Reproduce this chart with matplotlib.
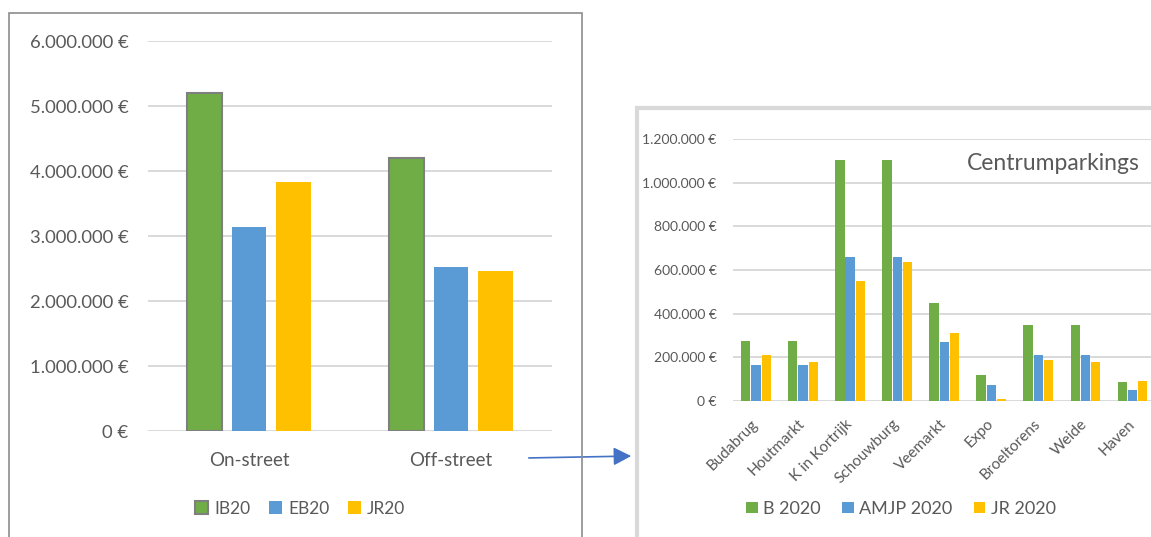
import matplotlib
matplotlib.use("Agg")
import matplotlib.pyplot as plt
import numpy as np
from matplotlib.patches import Rectangle, FancyArrowPatch
from matplotlib.ticker import FuncFormatter

# left chart: on-street vs off-street
main_cats = ["On-street", "Off-street"]
main_series = ["IB20", "EB20", "JR20"]
ib20 = [5210000, 4210000]
eb20 = [3150000, 2530000]
jr20 = [3830000, 2470000]
main_ticks = [0, 1000000, 2000000, 3000000, 4000000, 5000000, 6000000]

# right chart: centrumparkings
park_cats = ["Budabrug", "Houtmarkt", "K in Kortrijk", "Schouwburg", "Veemarkt",
             "Expo", "Broeltorens", "Weide", "Haven"]
park_series = ["B 2020", "AMJP 2020", "JR 2020"]
b2020 = [275000, 275000, 1104000, 1104000, 449000, 119000, 348000, 348000, 87000]
amjp2020 = [165000, 165000, 660000, 660000, 270000, 73000, 211000, 211000, 50000]
jr2020 = [211000, 179000, 550000, 637000, 311000, 9000, 188000, 179000, 92000]
park_ticks = [0, 200000, 400000, 600000, 800000, 1000000, 1200000]

GREEN = "#70AD47"
BLUE = "#5B9BD5"
YELLOW = "#FFC000"
TXT = "#595959"
GRID = "#D9D9D9"

W, H = 1151, 537
plt.rcParams["font.family"] = ["Lato", "DejaVu Sans"]
fig = plt.figure(figsize=(W / 100, H / 100), dpi=100)


def px_axes(x0, y0, x1, y1):
    # pixel box (top-left origin) -> axes
    return fig.add_axes([x0 / W, 1 - y1 / H, (x1 - x0) / W, (y1 - y0) / H])


def euro(v, pos):
    return f"{int(v):,}".replace(",", ".") + " €"


def style(ax, ticks, ysize, xpad, ypad):
    ax.set_ylim(ticks[0], ticks[-1])
    ax.set_yticks(ticks)
    ax.yaxis.set_major_formatter(FuncFormatter(euro))
    ax.yaxis.grid(True, color=GRID, linewidth=1.4)
    ax.set_axisbelow(True)
    for s in ax.spines.values():
        s.set_visible(False)
    ax.tick_params(axis="both", length=0, colors=TXT)
    ax.tick_params(axis="y", labelsize=ysize, pad=ypad)
    ax.tick_params(axis="x", pad=xpad)


# panel frames
fig.patches.append(Rectangle((9 / W, -0.1), (582 - 9) / W, 1.1 - 12.5 / H,
                             transform=fig.transFigure, fill=False,
                             edgecolor="#8C8C8C", linewidth=1.2))
fig.patches.append(Rectangle((637 / W, -0.1), 0.5, 1.1 - 108 / H,
                             transform=fig.transFigure, fill=False,
                             edgecolor=GRID, linewidth=3))

# left chart
ax1 = px_axes(148, 41.5, 552, 431)
x = np.arange(len(main_cats))
bw, off = 0.173, 0.221
b1 = ax1.bar(x - off, ib20, bw, color=GREEN, edgecolor="#7F7F7F", linewidth=1.5, label=main_series[0])
b2 = ax1.bar(x, eb20, bw, color=BLUE, label=main_series[1])
b3 = ax1.bar(x + off, jr20, bw, color=YELLOW, label=main_series[2])
ax1.set_xlim(-0.5, len(main_cats) - 0.5)
ax1.set_xticks(x)
ax1.set_xticklabels(main_cats, fontsize=13.5)
style(ax1, main_ticks, 13.3, 15, 14)
fig.legend(handles=[b1, b2, b3], loc="center", bbox_to_anchor=(300 / W, 1 - 509 / H),
           ncol=3, frameon=False, fontsize=12.5, labelcolor=TXT,
           handlelength=0.78, handleheight=0.78, handletextpad=0.35,
           columnspacing=1.05, borderaxespad=0)

# right chart
ax2 = px_axes(732.5, 139, 1156, 401)
x2 = np.arange(len(park_cats))
bw2, off2 = 0.198, 0.218
c1 = ax2.bar(x2 - off2, b2020, bw2, color=GREEN, label=park_series[0])
c2 = ax2.bar(x2, amjp2020, bw2, color=BLUE, label=park_series[1])
c3 = ax2.bar(x2 + off2, jr2020, bw2, color=YELLOW, label=park_series[2])
ax2.set_xlim(-0.5, len(park_cats) - 0.5)
ax2.set_xticks(x2)
ax2.set_xticklabels(park_cats, fontsize=11, rotation=45, ha="right", va="center",
                    rotation_mode="anchor")
style(ax2, park_ticks, 10, 15, 11.5)
ax2.text(1140 / W, 1 - 163 / H, "Centrumparkings", transform=fig.transFigure,
         ha="right", va="center", fontsize=16.5, color=TXT)
fig.legend(handles=[c1, c2, c3], loc="center", bbox_to_anchor=(901 / W, 1 - 509 / H),
           ncol=3, frameon=False, fontsize=13, labelcolor=TXT,
           handlelength=0.62, handleheight=0.62, handletextpad=0.3,
           columnspacing=1.2, borderaxespad=0)

# connecting arrow
fig.add_artist(FancyArrowPatch(
    (526 / W, 1 - 458 / H), (634 / W, 1 - 456 / H), transform=fig.transFigure,
    arrowstyle="-|>,head_length=4.3,head_width=2.2", color="#4472C4", linewidth=1.2,
    mutation_scale=2.5))

fig.savefig("out.png", dpi=100)
